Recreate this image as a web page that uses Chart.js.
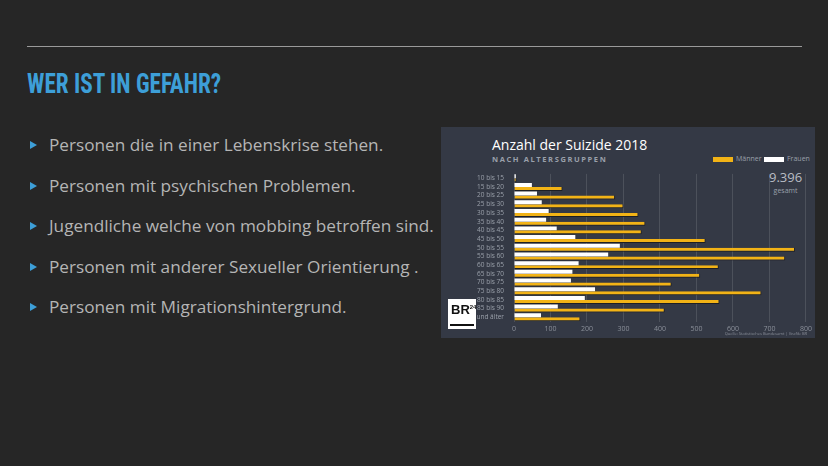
<!DOCTYPE html>
<html><head><meta charset="utf-8">
<script src="https://cdn.jsdelivr.net/npm/chart.js@4"></script>
<style>
body{margin:0;width:828px;height:466px;background:#262626;position:relative;overflow:hidden;font-family:'Open Sans',sans-serif}
.rule{position:absolute;left:27px;top:46px;width:775px;height:1px;background:#9a9a9a}
h1{position:absolute;left:27px;top:68px;margin:0;font:bold 27px 'Liberation Sans Narrow','Roboto Condensed',Roboto,sans-serif;color:#3d9fd8;transform:scaleX(.86);transform-origin:left;letter-spacing:0}
ul{position:absolute;left:27px;top:133px;margin:0;padding:0;list-style:none}
li{color:#b5b5b5;font-size:17.2px;height:40.5px;padding-left:22px;position:relative;white-space:nowrap}
li:before{content:'';position:absolute;left:3px;top:8px;border-left:7px solid #3d9fd8;border-top:4px solid transparent;border-bottom:4px solid transparent}
#card{position:absolute;left:441px;top:127px;width:374px;height:211px;background:#343945}
#card .t{position:absolute;left:51px;top:8px;color:#fff;font-size:14px}
#card .s{position:absolute;left:51px;top:27px;color:#9aa0aa;font-size:7.5px;font-weight:bold;letter-spacing:1.6px}
#card .lg{position:absolute;top:27px;font-size:7px;color:#9aa0aa}
#card .lg i{display:inline-block;width:20px;height:5px;margin-right:3px;vertical-align:middle}
#card .tot{position:absolute;left:328px;top:45px;color:#b9bdc4;font-size:13px;text-align:center;line-height:11px}
#card .tot small{font-size:7px;color:#9aa0aa}
#card .br{position:absolute;left:7px;top:172px;width:28px;height:30px;background:#fff;font:bold 13px sans-serif;color:#111;padding:3px 0 0 3px;box-sizing:border-box}
#card .src{position:absolute;right:8px;bottom:2px;font-size:4px;color:#8a8f99}
</style></head><body>
<div class="rule"></div>
<h1>WER IST IN GEFAHR?</h1>
<ul>
<li>Personen die in einer Lebenskrise stehen.</li>
<li>Personen mit psychischen Problemen.</li>
<li>Jugendliche welche von mobbing betroffen sind.</li>
<li>Personen mit anderer Sexueller Orientierung .</li>
<li>Personen mit Migrationshintergrund.</li>
</ul>
<div id="card">
<div class="t">Anzahl der Suizide 2018</div>
<div class="s">NACH ALTERSGRUPPEN</div>
<div class="lg" style="left:272px"><i style="background:#f2b316"></i>Männer</div>
<div class="lg" style="left:323px"><i style="background:#fff"></i>Frauen</div>
<div class="tot">9.396<br><small>gesamt</small></div>
<div style="position:absolute;left:0;top:41px;width:374px;height:168px"><canvas id="c"></canvas></div>
<div class="br">BR<sup style="font-size:6px">24</sup><div style="position:absolute;left:2px;right:2px;bottom:3px;height:2px;background:#111"></div></div>
<div class="src">Quelle: Statistisches Bundesamt | Grafik: BR</div>
</div>
<script>
const ageGroups = ['10 bis 15','15 bis 20','20 bis 25','25 bis 30','30 bis 35','35 bis 40','40 bis 45','45 bis 50','50 bis 55','55 bis 60','60 bis 65','65 bis 70','70 bis 75','75 bis 80','80 bis 85','85 bis 90','90 und älter'];
const frauen = [5,49,63,76,95,88,117,168,290,258,177,160,156,222,194,120,74];
const maenner = [7,133,277,300,341,360,350,525,770,743,561,510,432,678,563,413,182];
const xTicks = [0,100,200,300,400,500,600,700,800];

const tickFont = {family:"'Open Sans',sans-serif", size:7};
new Chart(document.getElementById('c'), {
  type:'bar',
  data:{ labels:ageGroups, datasets:[
    { label:'Frauen', data:frauen, backgroundColor:'#ffffff', barPercentage:1, categoryPercentage:0.92 },
    { label:'Männer', data:maenner, backgroundColor:'#f2b316', borderColor:'#1d1f24', borderWidth:{right:1,bottom:1}, borderSkipped:'left', barPercentage:1, categoryPercentage:0.92 },
  ]},
  options:{
    indexAxis:'y', responsive:true, maintainAspectRatio:false, animation:false,
    layout:{ padding:{ top:0, right:8, bottom:0, left:0 } },
    plugins:{ legend:{display:false}, tooltip:{enabled:false} },
    scales:{
      x:{ min:0, max:800, afterBuildTicks:s=>{ s.ticks = xTicks.map(v=>({value:v})); },
        grid:{ color:'rgba(255,255,255,0.12)', drawTicks:false }, border:{display:false},
        ticks:{ font:tickFont, color:'#8a8f99', padding:3 } },
      y:{ grid:{display:false}, border:{display:false}, afterFit:s=>{ s.width = 73; },
        ticks:{ font:{family:tickFont.family,size:6.5}, color:'#9aa0aa', padding:2, autoSkip:false } }
    }
  }
});
</script>
</body></html>
